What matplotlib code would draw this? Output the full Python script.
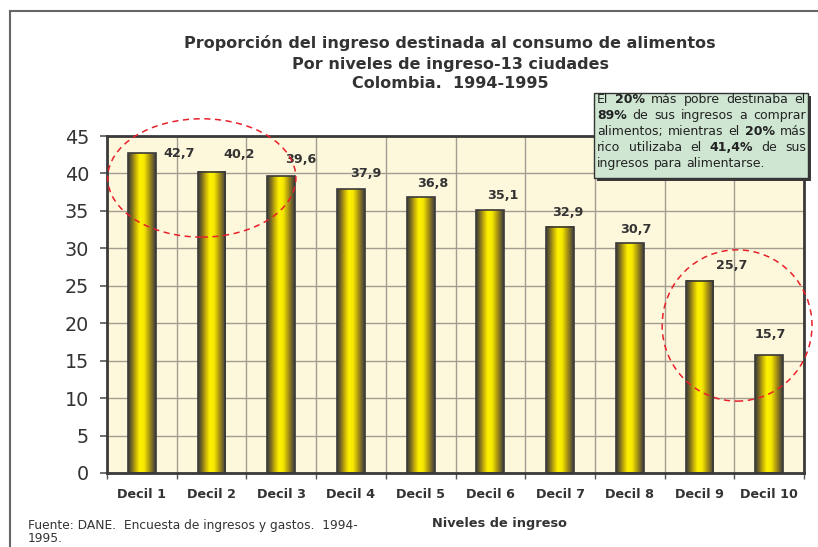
import matplotlib
matplotlib.use("Agg")
import matplotlib.pyplot as plt
import numpy as np
from matplotlib.patches import Ellipse, Rectangle
from matplotlib.colors import LinearSegmentedColormap
from matplotlib.lines import Line2D

plt.rcParams['font.family'] = ['DejaVu Sans']

categories = ["Decil 1", "Decil 2", "Decil 3", "Decil 4", "Decil 5",
              "Decil 6", "Decil 7", "Decil 8", "Decil 9", "Decil 10"]
values = [42.7, 40.2, 39.6, 37.9, 36.8, 35.1, 32.9, 30.7, 25.7, 15.7]
value_labels = ["42,7", "40,2", "39,6", "37,9", "36,8", "35,1", "32,9", "30,7", "25,7", "15,7"]
yticks = [0, 5, 10, 15, 20, 25, 30, 35, 40, 45]
title_lines = ["Proporción del ingreso destinada al consumo de alimentos",
               "Por niveles de ingreso-13 ciudades",
               "Colombia.  1994-1995"]
xlabel = "Niveles de ingreso"
source = "Fuente: DANE.  Encuesta de ingresos y gastos.  1994-\n1995."
note_lines = [
    [("El", False), ("20%", True), ("más", False), ("pobre", False), ("destinaba", False), ("el", False)],
    [("89%", True), ("de", False), ("sus", False), ("ingresos", False), ("a", False), ("comprar", False)],
    [("alimentos;", False), ("mientras", False), ("el", False), ("20%", True), ("más", False)],
    [("rico", False), ("utilizaba", False), ("el", False), ("41,4%", True), ("de", False), ("sus", False)],
    [("ingresos", False), ("para", False), ("alimentarse.", False)],
]

# label offsets in pixels (dx, dy above bar top)
label_dx = [37, 28, 19, 15, 12, 12, 8, 6, 32, 1]
label_dy = [0, 17, 17, 16, 14, 15, 14, 14, 15, 21]

W, H = 818, 547
fig = plt.figure(figsize=(W / 100, H / 100), dpi=100)
fig.patch.set_facecolor("white")

def fx(px):
    return px / W

def fy(py):
    return 1 - py / H

ax_l, ax_r, ax_t, ax_b = 107, 804, 136, 473
ax = fig.add_axes([fx(ax_l), fy(ax_b), fx(ax_r - ax_l), (ax_b - ax_t) / H])
ax.set_facecolor("#fdf8dc")

x = np.arange(len(categories))
bars = ax.bar(x, values, width=0.4, facecolor="none", edgecolor="#3a3a3a", linewidth=1.2, zorder=3)

cmap = LinearSegmentedColormap.from_list("cyl", [
    (0.0, "#3c3a36"), (0.12, "#6e6428"), (0.28, "#c8b008"), (0.42, "#fff200"),
    (0.58, "#f6e800"), (0.75, "#b09a10"), (0.9, "#6a5e30"), (1.0, "#3c3a36")])
grad = np.linspace(0, 1, 256).reshape(1, -1)
for b in bars:
    x0, y0 = b.get_x(), b.get_y()
    w, h = b.get_width(), b.get_height()
    ax.imshow(grad, extent=[x0, x0 + w, y0, y0 + h], aspect="auto", cmap=cmap,
              origin="lower", zorder=2, interpolation="bicubic")

ax.set_xlim(-0.5, len(categories) - 0.5)
ax.set_ylim(0, 45)
ax.set_yticks(yticks)
ax.set_yticklabels([str(v) for v in yticks], fontsize=13.8, color="#333333")
ax.set_xticks(x)
ax.set_xticklabels(categories, fontsize=9.2, fontweight="bold", color="#333333")
ax.set_xticks(np.arange(-0.5, len(categories)), minor=True)
ax.tick_params(axis="x", which="major", length=0, pad=11)
ax.tick_params(axis="x", which="minor", length=4, width=1, color="#555555")
ax.tick_params(axis="y", which="major", length=5, width=1.2, color="#555555", pad=8)
ax.grid(axis="y", which="major", color="#a49c90", linewidth=1, zorder=1)
ax.grid(axis="x", which="minor", color="#a49c90", linewidth=1, zorder=1)
ax.set_axisbelow(True)
for s in ax.spines.values():
    s.set_color("#3a3a3a")
    s.set_linewidth(2)

for i, (b, lab) in enumerate(zip(bars, value_labels)):
    cx = b.get_x() + b.get_width() / 2
    ax.annotate(lab, xy=(cx, b.get_height()), xytext=(label_dx[i] * 0.72, label_dy[i] * 0.72),
                textcoords="offset points", ha="center", va="center",
                fontsize=9.2, fontweight="bold", color="#333333", zorder=5)

# ellipses
e1 = Ellipse((0.86, 39.4), 2.70, 15.8, fill=False, edgecolor="#e8202a", linewidth=1.1,
             linestyle=(0, (4, 3)), clip_on=False, zorder=6)
e2 = Ellipse((8.54, 19.7), 2.15, 20.2, fill=False, edgecolor="#e8202a", linewidth=1.1,
             linestyle=(0, (4, 3)), clip_on=False, zorder=6)
ax.add_patch(e1)
ax.add_patch(e2)

# title
for t, py in zip(title_lines, [43, 64, 84]):
    fig.text(fx(450), fy(py), t, ha="center", va="center", fontsize=11.5,
             fontweight="bold", color="#333333")

fig.text(fx(499), fy(523), xlabel, ha="center", va="center", fontsize=9.3,
         fontweight="bold", color="#333333")
fig.text(fx(28), fy(545), source, ha="left", va="bottom", fontsize=8.8,
         color="#333333", linespacing=0.95)

# frame
fig.add_artist(Line2D([fx(9.5), fx(9.5)], [0, fy(10.5)], color="#666666", linewidth=1.5))
fig.add_artist(Line2D([fx(9.5), 1], [fy(10.5), fy(10.5)], color="#666666", linewidth=1.5))

# note box
bx0, by0, bx1, by1 = 594, 93, 808, 178
fig.add_artist(Rectangle((fx(bx0 + 3), fy(by1 + 3)), fx(bx1 - bx0), (by1 - by0) / H,
                         transform=fig.transFigure, facecolor="#3a3a3a", edgecolor="none", zorder=7))
fig.add_artist(Rectangle((fx(bx0), fy(by1)), fx(bx1 - bx0), (by1 - by0) / H,
                         transform=fig.transFigure, facecolor="#cfe7d2", edgecolor="#333333",
                         linewidth=1, zorder=8))

fig.canvas.draw()
renderer = fig.canvas.get_renderer()
tl, tr = 597, 806
baseline_y = [103, 119, 135, 151, 167]
for li, (words, py) in enumerate(zip(note_lines, baseline_y)):
    texts = []
    for w, bold in words:
        t = fig.text(0, fy(py), w, ha="left", va="baseline", fontsize=9,
                     fontweight="bold" if bold else "normal", color="#222222", zorder=9)
        texts.append(t)
    widths = [t.get_window_extent(renderer).width for t in texts]
    if li < len(note_lines) - 1:
        gap = (tr - tl - sum(widths)) / (len(texts) - 1)
    else:
        gap = 4
    cur = tl
    for t, wd in zip(texts, widths):
        t.set_x(fx(cur))
        cur += wd + gap

fig.savefig("out.png", dpi=100)
